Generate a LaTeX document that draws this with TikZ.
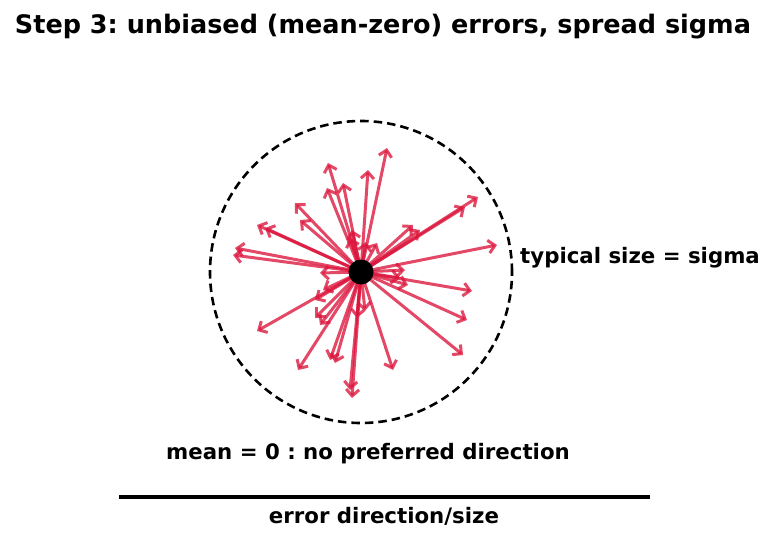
\documentclass[tikz,border=0pt]{standalone}
\usepackage{fontspec}
\setmainfont{DejaVu Sans}
\usetikzlibrary{arrows.meta}
\definecolor{errred}{RGB}{220,20,60}
\frenchspacing

\begin{document}
\begin{tikzpicture}[x=1pt,y=-1pt,
    errarrow/.style={draw=errred, draw opacity=0.78, line width=3pt, line cap=round,
      -{Straight Barb[length=6.5pt,width=13pt]}},
    lbl/.style={font=\bfseries\fontsize{21.3}{25}\selectfont, inner sep=0pt}]
  % canvas
  \useasboundingbox (0,0) rectangle (773,540);
  % Title
  \node[font=\bfseries\fontsize{25.5}{30}\selectfont, inner sep=0pt] (title) at (383,27)
    {Step 3: unbiased (mean-zero) errors, spread sigma};
  % Spread circle
  \coordinate (ctr) at (361,272);
  \draw[line width=2.6pt, dash pattern=on 8.5pt off 5pt] (ctr) circle (151pt);
  % Error arrows
  \foreach \ex/\ey [count=\k] in {387/148, 368/170, 328/163, 343/183, 327/188, 295/203,
      300/220, 257/225, 265/228, 235/248, 233/255, 352/230, 350/238, 478/197, 465/207,
      413/225, 420/230, 497/245, 377/243, 366/242, 405/270, 320/273, 472/291, 467/320,
      463/355, 393/370, 408/285, 365/311, 357/318, 257/331, 323/290, 315/300, 315/318,
      320/325, 298/370, 330/360, 335/363, 350/390, 352/398, 400/278} {
    \coordinate (tip\k) at (\ex,\ey);
    \draw[errarrow] (ctr) -- (tip\k);
  }
  % Mean point
  \node[circle, fill=black, minimum size=25pt, inner sep=0pt] (mean) at (ctr) {};
  % Labels
  \node[lbl, anchor=west] (sigma) at (520,258) {typical size = sigma};
  \node[lbl] (nodir) at (368,454) {mean = 0 : no preferred direction};
  % Axis line
  \coordinate (axl) at (119,497);
  \coordinate (axr) at (650,497);
  \draw[line width=4pt] (axl) -- (axr);
  \node[lbl] (axis) at (384,516) {error direction/size};
\end{tikzpicture}
\end{document}
